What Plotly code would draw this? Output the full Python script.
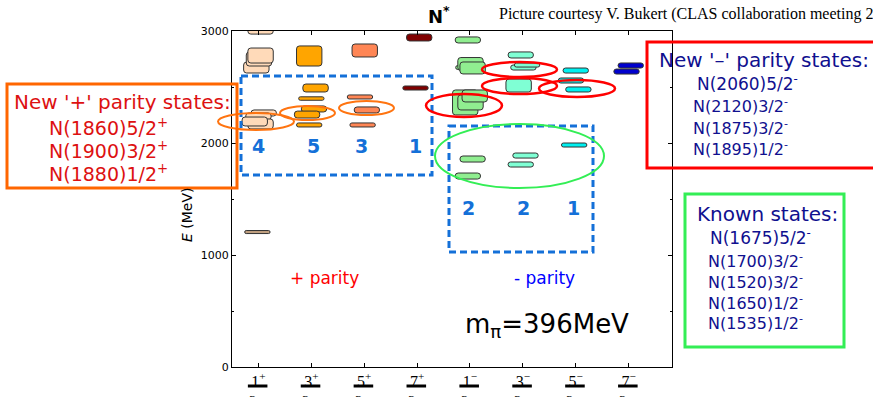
import plotly.graph_objects as go

# ---------------- data ----------------
categories = ["1/2+", "3/2+", "5/2+", "7/2+", "1/2-", "3/2-", "5/2-", "7/2-"]
tick_numerators = ["1<sup>+</sup>", "3<sup>+</sup>", "5<sup>+</sup>", "7<sup>+</sup>",
                   "1<sup>−</sup>", "3<sup>−</sup>", "5<sup>−</sup>", "7<sup>−</sup>"]
tick_denominator = "2"

# states in drawing order: category index, energy (MeV), band height (MeV)
state_cat = [0, 0, 0, 0, 0, 0, 0, 0, 0,
             1, 1, 1, 1, 1, 1,
             2, 2, 2, 2,
             3, 3,
             4, 4, 4, 4, 4, 4, 4, 4, 4,
             5, 5, 5, 5, 5, 5,
             6, 6, 6, 6,
             7, 7]
state_energy = [3000, 2674, 2750, 2781, 2268, 2237, 2170, 2192, 1205,
                2777, 2491, 2397, 2304, 2254, 2161,
                2826, 2411, 2295, 2161,
                2942, 2491,
                2920, 2674, 2705, 2670, 2362, 2362, 2420, 1857, 1705,
                2786, 2674, 2696, 2513, 1888, 1808,
                2647, 2558, 2478, 1982,
                2692, 2638]
state_band = [55, 98, 125, 134, 54, 62, 89, 80, 27,
              179, 71, 31, 54, 62, 36,
              116, 36, 54, 36,
              62, 36,
              54, 36, 116, 107, 223, 134, 107, 54, 54,
              54, 45, 36, 116, 45, 45,
              45, 45, 45, 36,
              45, 45]
# small horizontal displacement used in the original picture (category units)
state_nudge = [0.04, -0.04, 0.01, 0.04, 0.10, 0.0, 0.04, -0.07, -0.02,
               -0.04, 0.08, 0.0, 0.05, -0.08, -0.04,
               0.01, -0.08, 0.05, -0.03,
               0.04, -0.03,
               -0.04, -0.03, 0.01, 0.05, -0.09, 0.01, 0.09, 0.05, -0.04,
               -0.04, 0.01, 0.08, -0.08, 0.05, -0.04,
               0.0, -0.09, 0.05, -0.03,
               0.04, -0.04]

y_ticks = [0, 1000, 2000, 3000]

# ---------------- styles ----------------
cat_colors = ["#ffdab9", "#ffa500", "#ff8655", "#800000",
              "#90ee90", "#7fffd4", "#00f0f0", "#0000cd"]
ground_color = "#c0a080"

W, H = 873, 397
L, R, T, B = 232, 672, 31, 367


def px(x):
    return (x - L) / (R - L)


def py(y):
    return (B - y) / (B - T)


fig = go.Figure()
for c, e, h, n in zip(state_cat, state_energy, state_band, state_nudge):
    col = ground_color if e < 1500 else cat_colors[c]
    fig.add_trace(go.Bar(
        x=[c + n], y=[h], base=[e - h / 2], width=0.48,
        marker=dict(color=col, line=dict(color="#333333", width=1), cornerradius=3),
        showlegend=False, hoverinfo="skip"))

fig.update_layout(
    width=W, height=H, barmode="overlay",
    margin=dict(l=L, r=W - R, t=T, b=H - B, autoexpand=False),
    paper_bgcolor="white", plot_bgcolor="white",
    font=dict(family="DejaVu Sans", color="black"),
)
fig.update_xaxes(
    range=[-0.5, 7.82], tickmode="array", tickvals=list(range(len(categories))),
    ticktext=tick_numerators, ticks="inside", ticklen=4, tickcolor="black",
    showline=True, linecolor="black", linewidth=1, mirror="ticks",
    showgrid=False, zeroline=False,
    tickfont=dict(family="Liberation Serif", size=16, color="black"),
)
fig.update_yaxes(
    range=[0, 3000], tickvals=y_ticks, ticks="inside", ticklen=4, tickcolor="black",
    showline=True, linecolor="black", linewidth=1, mirror="ticks",
    showgrid=False, zeroline=False,
    minor=dict(ticks="inside", ticklen=2, dtick=500, tickcolor="black", showgrid=False),
    tickfont=dict(family="DejaVu Sans", size=11, color="black"),
)

shapes = []
annotations = []


def note(x, y, text, size, color="black", family="DejaVu Sans", xanchor="center", **kw):
    annotations.append(dict(xref="paper", yref="paper", x=px(x), y=py(y), text=text,
                            xanchor=xanchor, yanchor="middle", showarrow=False,
                            font=dict(family=family, size=size, color=color), **kw))


# fraction bars and denominators for the x tick labels
for i in range(len(categories)):
    shapes.append(dict(type="line", xref="x", yref="paper", x0=i - 0.2, x1=i + 0.17,
                       y0=py(386), y1=py(386), line=dict(color="black", width=3)))
    annotations.append(dict(xref="x", yref="paper", x=i - 0.1, y=py(401),
                            xanchor="center", yanchor="middle",
                            text=tick_denominator, showarrow=False,
                            font=dict(family="Liberation Serif", size=15, color="black")))

# y axis title
note(187, 215, "<i>E</i> (MeV)", 14, textangle=-90)

# title and credit
note(439, 15, "<b>N<sup>*</sup></b>", 18)
note(497, 14, "Picture courtesy V. Bukert (CLAS collaboration meeting 2013)", 16,
     family="Liberation Serif", xanchor="left")

# parity labels and pion mass
note(324, 278, "+ parity", 17, "#ff0000")
note(544, 278, "- parity", 17, "#0000ff")
note(547, 325, "m<sub>π</sub>=396MeV", 26)

# blue dashed boxes and counts
blue = "#1470d8"
shapes.append(dict(type="rect", xref="paper", yref="paper", x0=px(241), x1=px(432),
                   y0=py(76), y1=py(175), line=dict(color=blue, width=3, dash="7px,4px")))
shapes.append(dict(type="rect", xref="paper", yref="paper", x0=px(449), x1=px(593),
                   y0=py(126), y1=py(252), line=dict(color=blue, width=3, dash="7px,4px")))
for t, x, y in [("4", 258, 146), ("5", 313, 146), ("3", 361, 146), ("1", 415, 146),
                ("2", 468, 208), ("2", 523, 208), ("1", 573, 208)]:
    note(x, y, "<b>%s</b>" % t, 19, blue)


def ellipse(cx, cy, rx, ry, color, width):
    return dict(type="circle", xref="paper", yref="paper", x0=px(cx - rx), x1=px(cx + rx),
                y0=py(cy + ry), y1=py(cy - ry), line=dict(color=color, width=width))


orange = "#ff7410"
shapes += [ellipse(256, 121.5, 38, 8.5, orange, 2),
           ellipse(307.5, 113, 27.5, 7, orange, 2),
           ellipse(366.5, 108, 27.5, 7, orange, 2)]
red = "#ff0000"
shapes += [ellipse(464, 105.5, 38, 11.5, red, 2.5),
           ellipse(519.5, 69.5, 37.5, 7.5, red, 2.5),
           ellipse(519.5, 86, 37.5, 8, red, 2.5),
           ellipse(577, 88.5, 38, 8.5, red, 2.5)]
green = "#33ee55"
shapes.append(ellipse(519.5, 156, 84.5, 32, green, 2))

# text boxes
shapes.append(dict(type="rect", xref="paper", yref="paper", x0=px(7), x1=px(237),
                   y0=py(84), y1=py(188), line=dict(color="#ff6600", width=3)))
shapes.append(dict(type="rect", xref="paper", yref="paper", x0=px(647), x1=px(890),
                   y0=py(42), y1=py(168), line=dict(color="#ff0000", width=3)))
shapes.append(dict(type="rect", xref="paper", yref="paper", x0=px(685), x1=px(844),
                   y0=py(194), y1=py(347), line=dict(color=green, width=3)))

dred = "#dd1111"
note(122, 102, "New '+' parity states:", 20, dred)
for t, y in [("N(1860)5/2<sup>+</sup>", 127), ("N(1900)3/2<sup>+</sup>", 150),
             ("N(1880)1/2<sup>+</sup>", 173)]:
    note(47, y, t, 19, dred, xanchor="left")

navy = "#10108f"
note(657, 60, "New '–' parity states:", 20, navy, xanchor="left")
for t, x, y, s in [("N(2060)5/2<sup>-</sup>", 695, 83, 17),
                   ("N(2120)3/2<sup>-</sup>", 691, 105, 16),
                   ("N(1875)3/2<sup>-</sup>", 691, 127, 16),
                   ("N(1895)1/2<sup>-</sup>", 691, 148, 16)]:
    note(x, y, t, s, navy, xanchor="left")

note(695, 214, "Known states:", 20, navy, xanchor="left")
for t, x, y, s in [("N(1675)5/2<sup>-</sup>", 708, 237, 17),
                   ("N(1700)3/2<sup>-</sup>", 706, 260, 16),
                   ("N(1520)3/2<sup>-</sup>", 706, 281, 16),
                   ("N(1650)1/2<sup>-</sup>", 706, 302, 16),
                   ("N(1535)1/2<sup>-</sup>", 706, 322, 16)]:
    note(x, y, t, s, navy, xanchor="left")

fig.update_layout(shapes=shapes, annotations=annotations)
fig.write_html("out.html", config={"displayModeBar": False},
               post_script="document.body.style.margin='0';")
